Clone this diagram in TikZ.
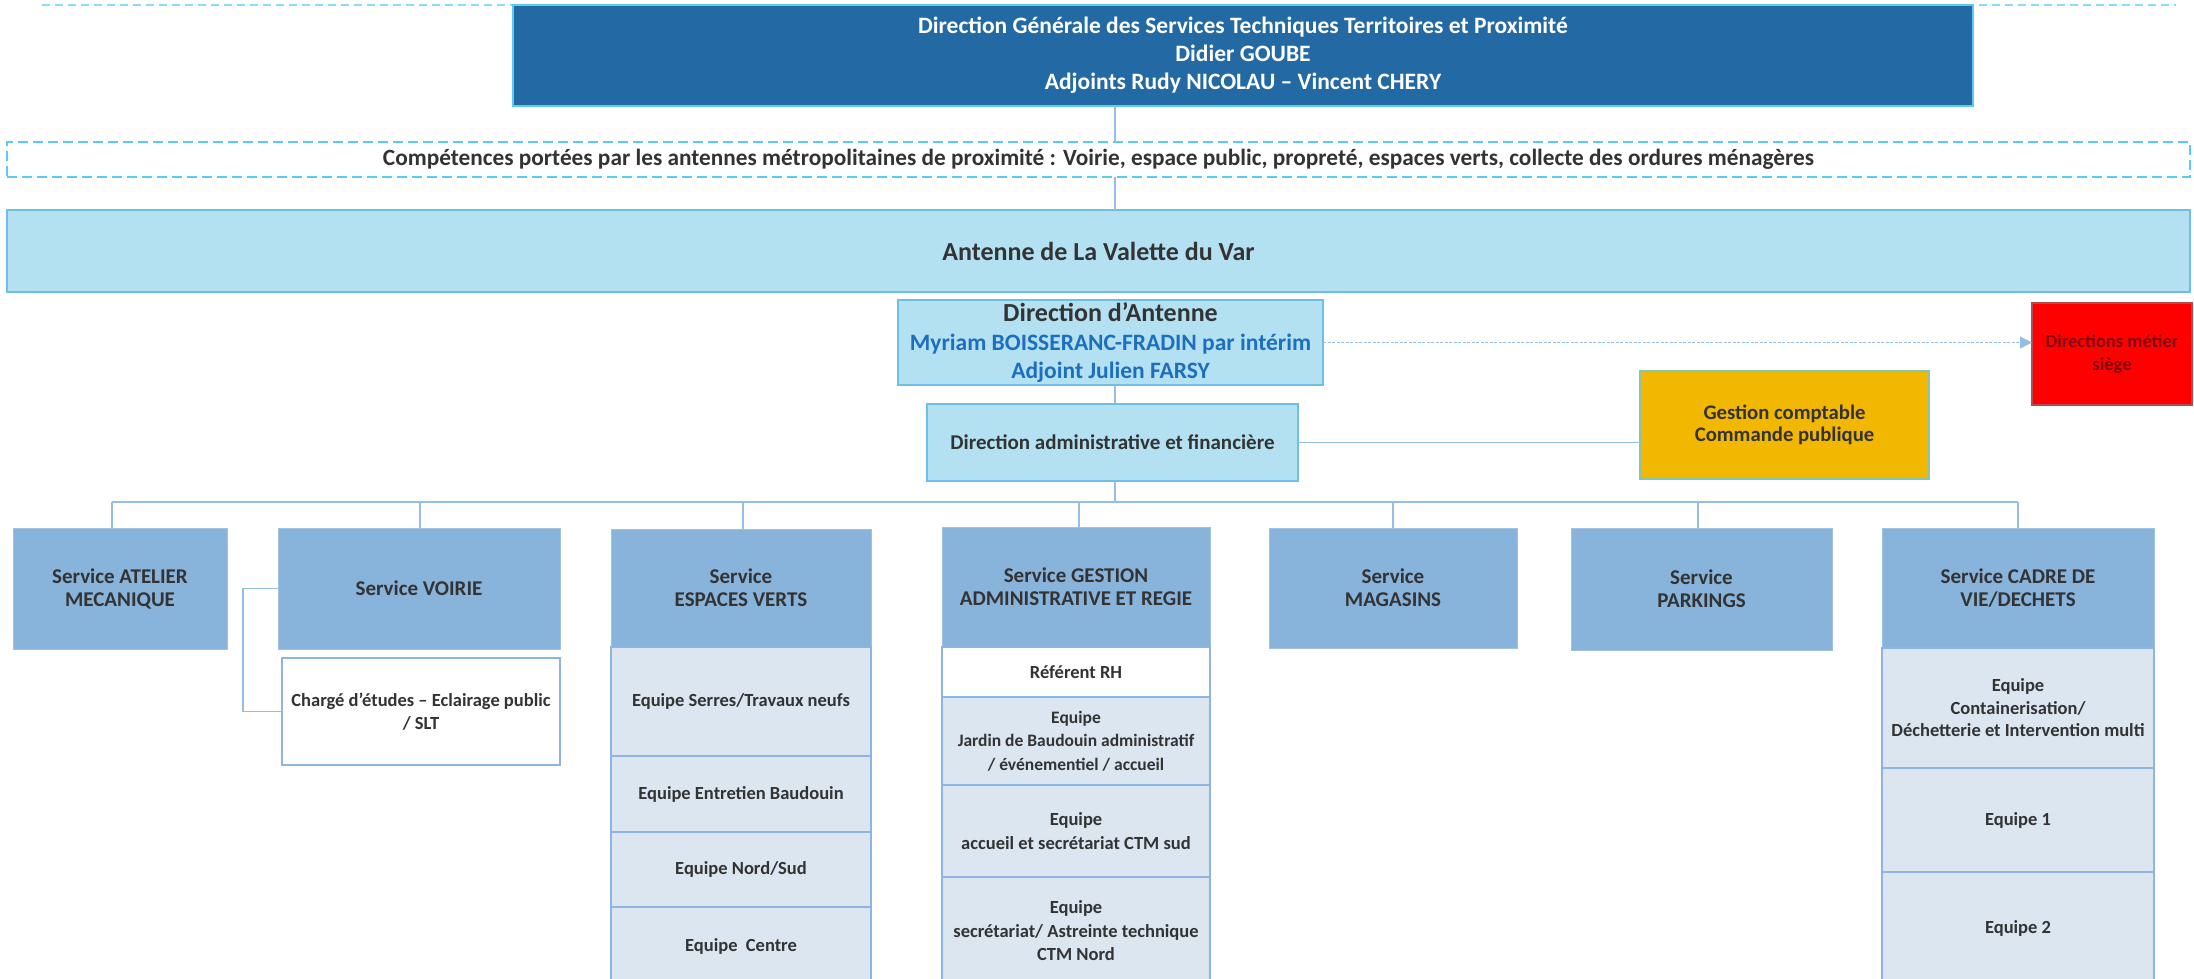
\documentclass[tikz,border=0pt]{standalone}
\usepackage{fontspec}
\setmainfont{Carlito}
\usetikzlibrary{arrows.meta}
\definecolor{dgstfill}{RGB}{35,105,164}
\definecolor{cyanb}{RGB}{91,203,245}
\definecolor{antfill}{RGB}{179,225,242}
\definecolor{antb}{RGB}{110,190,230}
\definecolor{servfill}{RGB}{136,179,219}
\definecolor{subfill}{RGB}{220,230,240}
\definecolor{subb}{RGB}{141,180,226}
\definecolor{linec}{RGB}{150,190,228}
\definecolor{txt}{RGB}{51,51,51}
\definecolor{bluetxt}{RGB}{30,110,190}
\definecolor{amber}{RGB}{242,183,0}
\definecolor{redbox}{RGB}{255,0,0}
\definecolor{redtxt}{RGB}{130,0,10}
\newcommand\bx[7]{\node[#6, minimum width={(#4-#2)*1pt}, minimum height={(#5-#3)*1pt}] (#1) at ({(#2+#4)/2},{(#3+#5)/2}) {#7};}
\tikzset{
  base/.style={inner sep=0pt, outer sep=0pt, align=center, text=txt, font=\bfseries},
  dgst/.style={base, fill=dgstfill, draw=cyanb, line width=1.5pt, text=white, font=\bfseries\fontsize{23.5}{28}\selectfont},
  comp/.style={base, draw=cyanb, dash pattern=on 10pt off 5pt, line width=2pt, font=\bfseries\fontsize{23.3}{26}\selectfont},
  ant/.style={base, fill=antfill, draw=antb, line width=2.5pt, font=\bfseries\fontsize{26}{30}\selectfont},
  dira/.style={base, fill=antfill, draw=antb, line width=2pt},
  serv/.style={base, fill=servfill, draw=servfill!80!white, line width=1pt, font=\bfseries\fontsize{21}{23}\selectfont},
  sub/.style={base, fill=subfill, draw=subb, line width=2pt, font=\bfseries\fontsize{18.5}{23.5}\selectfont},
  wsub/.style={sub, fill=white},
  conn/.style={draw=linec, line width=1.5pt},
}
\begin{document}
\begin{tikzpicture}[x=1pt,y=-1pt]
\useasboundingbox (0,0) rectangle (2194,978);
% top dashed line
\coordinate (tl) at (42,5);
\coordinate (tr) at (2176,5);
\draw[cyanb!70!white, dash pattern=on 8pt off 5pt, line width=1.2pt] (tl) -- (tr);
% top level
\bx{dgst}{513}{5}{1973}{106}{dgst}{Direction Générale des Services Techniques Territoires et Proximité\\Didier GOUBE\\Adjoints Rudy NICOLAU – Vincent CHERY}
\bx{comp}{7}{142}{2190}{177}{comp}{Compétences portées par les antennes métropolitaines de proximité : Voirie, espace public, propreté, espaces verts, collecte des ordures ménagères}
\bx{ant}{7}{210}{2190}{292}{ant}{Antenne de La Valette du Var}
\bx{dirant}{898}{300}{1323}{385}{dira,font=\bfseries\fontsize{23.5}{28}\selectfont}{{\fontsize{26}{30}\selectfont Direction d’Antenne}\\[1pt]{\color{bluetxt}Myriam BOISSERANC-FRADIN par intérim}\\{\color{bluetxt}Adjoint Julien FARSY}}
\bx{diradm}{927}{404}{1298}{481}{dira,font=\bfseries\fontsize{21}{24}\selectfont}{Direction administrative et financière}
\bx{gest}{1640}{371}{1929}{479}{base,fill=amber,draw=cyanb!70!amber,line width=1.5pt,font=\bfseries\fontsize{20.7}{22.5}\selectfont}{Gestion comptable\\Commande publique}
\bx{metier}{2032}{303}{2192}{405}{base,fill=redbox,draw=gray!60!red,line width=1.5pt,text=redtxt,font=\bfseries\fontsize{18.5}{23}\selectfont}{Directions métier\\siège}
% services
\bx{atelier}{13}{528}{227}{649}{serv}{Service ATELIER\\MECANIQUE}
\bx{voirie}{278}{528}{560}{649}{serv}{Service VOIRIE}
\bx{charge}{282}{658}{560}{765}{wsub}{Chargé d’études – Eclairage public\\/ SLT}
\bx{ev}{611}{529}{871}{647}{serv}{Service\\ESPACES VERTS}
\bx{ev1}{611}{647}{871}{756}{sub}{Equipe Serres/Travaux neufs}
\bx{ev2}{611}{756}{871}{832}{sub}{Equipe Entretien Baudouin}
\bx{ev3}{611}{832}{871}{907}{sub}{Equipe Nord/Sud}
\bx{ev4}{611}{907}{871}{985}{sub}{Equipe~~Centre}
\bx{gestion}{942}{527}{1210}{647}{serv}{Service GESTION\\ADMINISTRATIVE ET REGIE}
\bx{rh}{942}{647}{1210}{697}{wsub}{Référent RH}
\bx{g1}{942}{697}{1210}{785}{sub,font=\bfseries\fontsize{17.5}{23.5}\selectfont}{Equipe\\Jardin de Baudouin administratif\\/ événementiel / accueil}
\bx{g2}{942}{785}{1210}{877}{sub}{Equipe\\accueil et secrétariat CTM sud}
\bx{g3}{942}{877}{1210}{985}{sub}{Equipe\\secrétariat/ Astreinte technique\\CTM Nord}
\bx{mag}{1269}{528}{1517}{648}{serv}{Service\\MAGASINS}
\bx{park}{1571}{528}{1832}{650}{serv}{Service\\PARKINGS}
\bx{cadre}{1882}{528}{2154}{648}{serv}{Service CADRE DE\\VIE/DECHETS}
\bx{c1}{1882}{648}{2154}{768}{sub,font=\bfseries\fontsize{18.5}{22.5}\selectfont}{Equipe\\Containerisation/\\Déchetterie et Intervention multi}
\bx{c2}{1882}{768}{2154}{872}{sub}{Equipe 1}
\bx{c3}{1882}{872}{2154}{985}{sub}{Equipe 2}
% connectors
\coordinate (bus) at (1115,502);
\coordinate (busL) at (112,502);
\coordinate (busR) at (2018,502);
\draw[conn] (dgst.south -| bus) -- (comp.north -| bus);
\draw[conn] (comp.south -| bus) -- (ant.north -| bus);
\draw[conn] (dirant.south -| bus) -- (diradm.north -| bus);
\draw[conn] (diradm.south -| bus) -- (bus);
\draw[conn] (diradm.east) -- (diradm.east -| gest.west);
\draw[linec, line width=1.2pt, dash pattern=on 3pt off 1.5pt, -{Triangle[length=12pt,width=12pt]}] (dirant.east) -- (dirant.east -| metier.west);
\draw[conn, line width=2pt] (busL) -- (busR);
\foreach \n/\xx in {atelier/112, voirie/420, ev/743, gestion/1079, mag/1393, park/1698, cadre/2018}
  \draw[conn] (\xx,502) -- (\n.north -| {(\xx,0)});
\coordinate (brk) at (243,0);
\draw[conn] (voirie.west) -- (voirie.west -| brk) |- (charge.west);
\end{tikzpicture}
\end{document}
